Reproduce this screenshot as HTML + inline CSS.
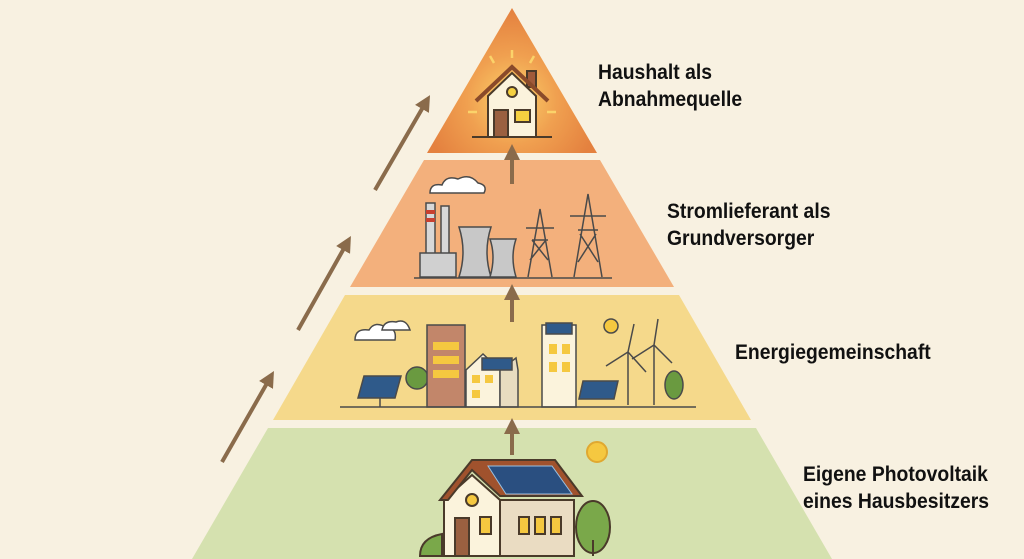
<!DOCTYPE html>
<html><head><meta charset="utf-8"><style>
html,body{margin:0;padding:0;background:#f8f1e1;}
.t{position:absolute;font-family:"Liberation Sans",sans-serif;font-weight:bold;font-size:21.5px;line-height:27px;color:#111;transform:scaleX(0.9);transform-origin:left top;white-space:nowrap;}
</style></head><body>
<div style="position:relative;width:1024px;height:559px;overflow:hidden;">
<svg width="1024" height="559" viewBox="0 0 1024 559" style="position:absolute;left:0;top:0">
<defs>
<radialGradient id="g1" cx="512" cy="100" r="90" gradientUnits="userSpaceOnUse">
<stop offset="0" stop-color="#fbd36a"/><stop offset="0.5" stop-color="#f0a050"/><stop offset="1" stop-color="#e4813f"/></radialGradient>
<marker id="ah" markerWidth="4" markerHeight="4" refX="2" refY="2" orient="auto" markerUnits="strokeWidth"><path d="M0,0 L4,2 L0,4 z" fill="#8a6b4b"/></marker>
</defs>
<rect width="1024" height="559" fill="#f8f1e1"/>
<polygon points="512,8 597,153 427,153" fill="url(#g1)"/>
<polygon points="424,160 600,160 674,287 350,287" fill="#f3b07c"/>
<polygon points="345,295 679,295 751,420 273,420" fill="#f5d98b"/>
<polygon points="268,428 756,428 832,559 192,559" fill="#d5e1af"/>
<g stroke="#8a6b4b" stroke-width="4" fill="none" marker-end="url(#ah)">
<line x1="375" y1="190" x2="426" y2="102"/>
<line x1="298" y1="330" x2="347" y2="243"/>
<line x1="222" y1="462" x2="270" y2="378"/>
<line x1="512" y1="184" x2="512" y2="152"/>
<line x1="512" y1="322" x2="512" y2="292"/>
<line x1="512" y1="455" x2="512" y2="426"/>
</g>
<g stroke="#fbd36a" stroke-width="2.5">
<line x1="512" y1="50" x2="512" y2="58"/><line x1="490" y1="56" x2="494" y2="63"/><line x1="534" y1="56" x2="530" y2="63"/>
<line x1="468" y1="112" x2="477" y2="112"/><line x1="547" y1="112" x2="556" y2="112"/>
</g>
<g stroke="#4a3a2a" stroke-width="2">
<rect x="527" y="71" width="9" height="16" fill="#a05a3a"/>
<polygon points="488,96 512,73 536,96 536,137 488,137" fill="#fbf3dc"/>
<polyline points="476,101 512,67 548,101" fill="none" stroke="#8a4a2a" stroke-width="4"/>
<rect x="494" y="110" width="14" height="27" fill="#9a6040"/>
<rect x="515" y="110" width="15" height="12" fill="#f5d040"/>
<circle cx="512" cy="92" r="5" fill="#f5d040"/>
<line x1="472" y1="137" x2="552" y2="137"/>
</g>
<g stroke="#4a4a4a" stroke-width="1.5">
<path d="M430,193 q0,-10 12,-8 q4,-10 16,-6 q12,-6 20,4 q10,2 6,10 z" fill="#fff"/>
<rect x="426" y="203" width="9" height="58" fill="#d8d8d8"/>
<rect x="441" y="206" width="8" height="55" fill="#d8d8d8"/>
<rect x="420" y="253" width="36" height="24" fill="#d0d0d0"/>
<path d="M459,277 q8,-25 0,-50 h32 q-8,25 0,50 z" fill="#c8c8c8"/>
<path d="M490,277 q6,-20 0,-38 h26 q-6,18 0,38 z" fill="#c8c8c8"/>
<path d="M528,277 l12,-68 l12,68 M532,240 h16 M526,228 h28 M530,260 l16,-20 M548,260 l-16,-20" fill="none"/>
<path d="M574,277 l14,-83 l14,83 M578,230 h20 M570,216 h36 M578,262 l18,-28 M598,262 l-18,-28" fill="none"/>
<line x1="414" y1="278" x2="612" y2="278"/>
</g>
<rect x="426" y="210" width="9" height="4" fill="#c84030"/><rect x="426" y="218" width="9" height="4" fill="#c84030"/>
<g stroke="#4a4a4a" stroke-width="1.5">
<path d="M355,340 q0,-12 14,-10 q6,-10 18,-2 q10,0 8,12 z" fill="#fff"/>
<path d="M382,330 q2,-10 14,-8 q10,-4 14,8 z" fill="#fff"/>
<polygon points="364,376 401,376 395,398 358,398" fill="#2f5a8a"/>
<line x1="380" y1="398" x2="380" y2="407"/>
<circle cx="417" cy="378" r="11" fill="#6a9a40"/>
<rect x="427" y="325" width="38" height="82" fill="#c2866a"/>
<polygon points="466,407 466,370 483,354 500,370 500,407" fill="#fbf3dc"/>
<polygon points="500,407 500,370 516,358 518,370 518,407" fill="#e8dcc0"/>
<rect x="482" y="358" width="30" height="12" fill="#2f5a8a"/>
<rect x="542" y="325" width="34" height="82" fill="#fbf3dc"/>
<rect x="546" y="323" width="26" height="11" fill="#2f5a8a"/>
<polygon points="583,381 618,381 614,399 579,399" fill="#2f5a8a"/>
<line x1="628" y1="405" x2="628" y2="352"/><line x1="654" y1="405" x2="654" y2="345"/>
<path d="M628,352 l-22,14 M628,352 l6,-28 M628,352 l18,20 M654,345 l-22,14 M654,345 l4,-26 M654,345 l18,18" fill="none"/>
<ellipse cx="674" cy="385" rx="9" ry="14" fill="#6a9a40"/>
<circle cx="611" cy="326" r="7" fill="#f5c840"/>
<line x1="340" y1="407" x2="696" y2="407"/>
</g>
<g fill="#f5c840"><rect x="433" y="342" width="26" height="8"/><rect x="433" y="356" width="26" height="8"/><rect x="433" y="370" width="26" height="8"/>
<rect x="549" y="344" width="8" height="10"/><rect x="562" y="344" width="8" height="10"/><rect x="549" y="362" width="8" height="10"/><rect x="562" y="362" width="8" height="10"/>
<rect x="472" y="375" width="8" height="8"/><rect x="485" y="375" width="8" height="8"/><rect x="472" y="390" width="8" height="8"/></g>
<g stroke="#4a3a2a" stroke-width="2">
<circle cx="597" cy="452" r="10" fill="#f5c840" stroke="#e0a830"/>
<ellipse cx="593" cy="527" rx="17" ry="26" fill="#7aa84a"/>
<line x1="593" y1="540" x2="593" y2="556"/>
<path d="M420,556 q0,-18 22,-22 l0,22 z" fill="#7aa84a"/>
<polygon points="444,556 444,500 472,475 500,500 500,556" fill="#fbf3dc"/>
<rect x="500" y="500" width="74" height="56" fill="#eadcc2"/>
<polygon points="440,500 472,460 555,460 582,496 500,496 472,470 448,500" fill="#a0522d"/>
<polygon points="488,466 552,466 572,494 506,494" fill="#2a4f80" stroke="#9ac0e0" stroke-width="1"/>
<circle cx="472" cy="500" r="6" fill="#f5c840"/>
<rect x="455" y="518" width="14" height="38" fill="#9a6040"/>
<rect x="480" y="517" width="11" height="17" fill="#f5c840"/>
<rect x="519" y="517" width="10" height="17" fill="#f5c840"/>
<rect x="535" y="517" width="10" height="17" fill="#f5c840"/>
<rect x="551" y="517" width="10" height="17" fill="#f5c840"/>
</g>
</svg>
<div class="t" style="left:598px;top:59px">Haushalt als<br>Abnahmequelle</div>
<div class="t" style="left:667px;top:198px">Stromlieferant als<br>Grundversorger</div>
<div class="t" style="left:735px;top:339px">Energiegemeinschaft</div>
<div class="t" style="left:803px;top:461px">Eigene Photovoltaik<br>eines Hausbesitzers</div>
</div>
</body></html>
